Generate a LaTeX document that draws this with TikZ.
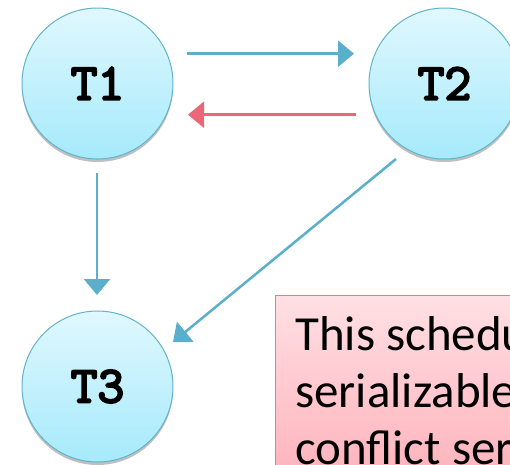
\documentclass[tikz,border=0pt]{standalone}
\usepackage{fontspec}
\setmainfont{Carlito}
\newfontfamily\codefont[FakeBold=4]{Latin Modern Mono}
\usetikzlibrary{arrows.meta,shadows}
\definecolor{edgeblue}{HTML}{5AAFCA}
\definecolor{edgered}{HTML}{E8687A}
\definecolor{circtop}{HTML}{E0F8FE}
\definecolor{circbot}{HTML}{A6EAFB}
\definecolor{circline}{HTML}{62B3CB}
\definecolor{boxtop}{HTML}{FFE0E4}
\definecolor{boxbot}{HTML}{FFA8B2}
\definecolor{boxline}{HTML}{E8788A}
\tikzset{
  txn/.style={circle, minimum size=151pt, inner sep=0pt, draw=circline, line width=1pt,
    top color=circtop, bottom color=circbot,
    drop shadow={shadow xshift=0pt, shadow yshift=-3pt, opacity=0.25, fill=black},
    font=\codefont\fontsize{52}{52}\selectfont},
  bluearrow/.style={draw=edgeblue, line width=2.5pt, -{Triangle[length=16pt,width=26pt]}},
  redarrow/.style={draw=edgered, line width=2.5pt, -{Triangle[length=16pt,width=26pt]}},
  notebox/.style={draw=boxline, line width=1pt, top color=boxtop, bottom color=boxbot,
    drop shadow={shadow xshift=0pt, shadow yshift=-2pt, opacity=0.2, fill=black}}
}
\begin{document}
\begin{tikzpicture}[x=1pt,y=-1pt]
\useasboundingbox (0,0) rectangle (510,464);
\clip (0,0) rectangle (510,464);
\node[txn] (t1) at (97.5,83.5) {T1};
\node[txn] (t2) at (444.5,83.5) {T2};
\node[txn] (t3) at (97.5,386.5) {T3};
\coordinate (a1s) at (187,53.7);
\coordinate (a1e) at (354,53.7);
\draw[bluearrow] (a1s) -- (a1e);
\coordinate (a2s) at (356,114.7);
\coordinate (a2e) at (188,114.7);
\draw[redarrow] (a2s) -- (a2e);
\coordinate (a3s) at (97,173);
\coordinate (a3e) at (97,295);
\draw[bluearrow] (a3s) -- (a3e);
\coordinate (a4s) at (396,159);
\coordinate (a4e) at (173,342);
\draw[bluearrow] (a4s) -- (a4e);
\path[notebox] (275,295) rectangle (560,520);
\node[anchor=base west, inner sep=0pt, align=left, font=\fontsize{49}{57}\selectfont] (note) at (295,464)
 {This schedule is not\\serializable, since it is\\conflict serializable};
\end{tikzpicture}
\end{document}
